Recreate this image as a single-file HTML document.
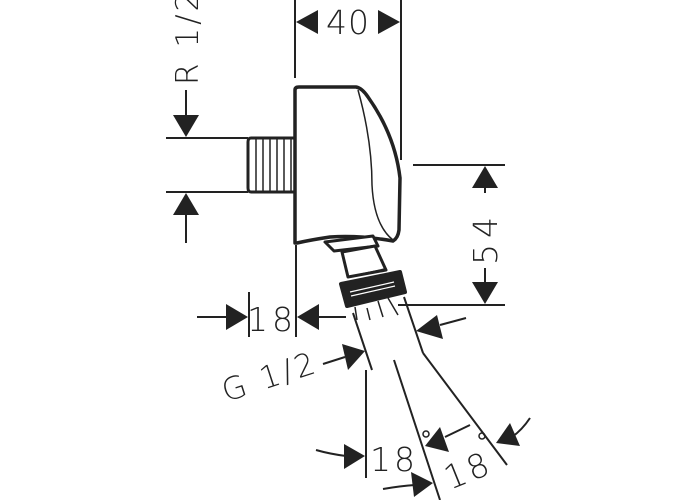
<!DOCTYPE html>
<html><head><style>html,body{margin:0;padding:0;background:#fff}svg{display:block}</style></head>
<body>
<svg width="700" height="500" viewBox="0 0 700 500" xmlns="http://www.w3.org/2000/svg" font-family="DejaVu Sans, Liberation Sans, sans-serif" font-weight="200" fill="none" stroke="#222" stroke-width="2">
<line x1="295" y1="0" x2="295" y2="78"/>
<line x1="401" y1="0" x2="401" y2="160"/>
<polygon points="296,22 318,10 318,34" fill="#222" stroke="none"/>
<polygon points="400,22 378,10 378,34" fill="#222" stroke="none"/>
<text x="348" y="34" font-size="33" fill="#222" stroke="none" text-anchor="middle" letter-spacing="1">40</text>
<path d="M295,90 Q295,87 299,87 L356,87 Q362,88 368,97 Q395,135 400,178 L399,230 Q398,238 393,241 Q360,235 330,237 Q310,240 297,243 L295,243 Z" stroke-width="3.5" stroke-linejoin="round"/>
<path d="M358,90 Q372,140 372,185 Q374,225 393,240" stroke-width="1.5"/>
<path d="M295,138 L251,138 Q248,138 248,142 L248,188 Q248,192 251,192 L295,192" stroke-width="3"/>
<g stroke-width="1.5"><line x1="256" y1="139" x2="256" y2="191"/><line x1="263" y1="139" x2="263" y2="191"/><line x1="270" y1="139" x2="270" y2="191"/><line x1="277" y1="139" x2="277" y2="191"/><line x1="284" y1="139" x2="284" y2="191"/><line x1="291" y1="139" x2="291" y2="191"/></g>
<line x1="166" y1="138" x2="248" y2="138"/>
<line x1="166" y1="192" x2="248" y2="192"/>
<line x1="186" y1="90" x2="186" y2="118"/>
<polygon points="186,137 173,115 199,115" fill="#222" stroke="none"/>
<polygon points="186,193 173,215 199,215" fill="#222" stroke="none"/>
<line x1="186" y1="212" x2="186" y2="243"/>
<text transform="translate(198,85) rotate(-90)" font-size="31" fill="#222" stroke="none" letter-spacing="3">R 1/2</text>
<line x1="413" y1="165" x2="505" y2="165"/>
<line x1="398" y1="305" x2="505" y2="305"/>
<polygon points="485,166 472,188 498,188" fill="#222" stroke="none"/>
<line x1="485" y1="186" x2="485" y2="193"/>
<polygon points="485,304 472,282 498,282" fill="#222" stroke="none"/>
<line x1="485" y1="268" x2="485" y2="284"/>
<text transform="translate(497,265) rotate(-90)" font-size="33" fill="#222" stroke="none" letter-spacing="6">54</text>
<polygon points="325,242 373,236 378,246 334,251" stroke-width="3" stroke-linejoin="round" fill="#fff"/>
<polygon points="342,252 375,246 386,270 348,277" stroke-width="3" stroke-linejoin="round" fill="#fff"/>
<line x1="349" y1="277" x2="386" y2="269" stroke-width="2"/>
<polygon points="341,284 400,272 405,292 347,306" fill="#222" stroke="#222" stroke-width="4" stroke-linejoin="round"/>
<g stroke="#fff" stroke-width="1.2"><line x1="350" y1="292" x2="394" y2="282"/><line x1="351" y1="296" x2="395" y2="286"/></g>
<g stroke-width="1.5"><line x1="355" y1="307" x2="357" y2="320"/><line x1="367" y1="308" x2="370" y2="320"/><line x1="378" y1="301" x2="383" y2="317"/><line x1="388" y1="298" x2="398" y2="315"/></g>
<line x1="249" y1="292" x2="249" y2="337"/>
<line x1="296" y1="245" x2="296" y2="337"/>
<line x1="197" y1="317" x2="230" y2="317"/>
<polygon points="248,317 226,304 226,330" fill="#222" stroke="none"/>
<polygon points="297,317 319,304 319,330" fill="#222" stroke="none"/>
<line x1="316" y1="317" x2="346" y2="317"/>
<text x="272" y="331" font-size="33" fill="#222" stroke="none" text-anchor="middle" letter-spacing="4">18</text>
<line x1="353" y1="313" x2="372" y2="370"/>
<line x1="366" y1="370" x2="366" y2="478"/>
<line x1="394" y1="360" x2="440" y2="500"/>
<line x1="404" y1="297" x2="423" y2="353"/>
<line x1="423" y1="353" x2="507" y2="465"/>
<line x1="323" y1="364" x2="345" y2="357"/>
<polygon points="365,351 342,344 348,370" fill="#222" stroke="none"/>
<text transform="translate(226,402) rotate(-18)" font-size="31" fill="#222" stroke="none" letter-spacing="3">G 1/2</text>
<line x1="466" y1="318" x2="440" y2="325"/>
<polygon points="416,331 437,315 443,339" fill="#222" stroke="none"/>
<path d="M316,450 Q330,454 346,456"/>
<polygon points="365,456 344,444 344,469" fill="#222" stroke="none"/>
<text x="370" y="471" font-size="33" fill="#222" stroke="none" letter-spacing="3">18</text>
<circle cx="426" cy="434" r="3" stroke-width="1.5"/>
<line x1="470" y1="425" x2="445" y2="437"/>
<polygon points="425,446 440,427 449,452" fill="#222" stroke="none"/>
<path d="M383,489 Q400,486 415,485"/>
<polygon points="433,483 411,472 414,497" fill="#222" stroke="none"/>
<text transform="translate(450,490) rotate(-22)" font-size="33" fill="#222" stroke="none" letter-spacing="3">18</text>
<circle cx="482" cy="436" r="3" stroke-width="1.5"/>
<path d="M530,418 Q522,430 512,437"/>
<polygon points="496,443 510,423 520,446" fill="#222" stroke="none"/>
</svg>
</body></html>
